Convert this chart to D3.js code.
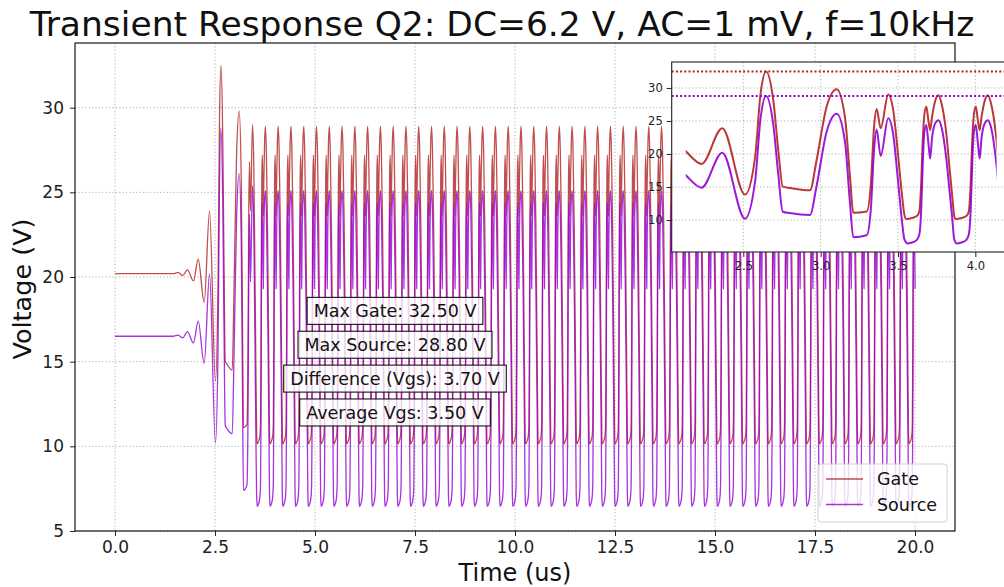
<!DOCTYPE html>
<html>
<head>
<meta charset="utf-8">
<script src="https://cdn.jsdelivr.net/npm/d3@7"></script>
<style>
    body { margin: 0; background: #fff; }
    svg { font-family: "DejaVu Sans", sans-serif; }
</style>
</head>
<body>
<svg id="chart" width="1004" height="587"></svg>
<script>
// start-up transient (us, V)
const transientTime = [0.00, 1.45, 1.58, 1.69, 1.81, 1.96, 2.08, 2.23, 2.364, 2.511, 2.576, 2.612, 2.647, 2.694, 2.726, 2.755,
    2.80, 2.931, 2.974, 3.039, 3.104, 3.157, 3.19, 3.211, 3.298, 3.325, 3.345, 3.362, 3.388, 3.437, 3.47, 3.50, 3.525, 3.54]
const transientGate = [20.2, 20.2, 20.27, 20.08, 20.42, 19.77, 21.05, 18.5, 23.9, 13.85, 19.5, 29.2, 32.5, 28.1, 20.6, 15.05,
    14.85, 14.5, 19.1, 27.2, 29.8, 25.6, 16.5, 11.1, 11.3, 15.5, 24.0, 26.8, 23.9, 29.0, 26.5, 20.0, 14.0, 11.0]
const transientSource = [16.5, 16.5, 16.57, 16.4, 16.78, 16.1, 17.4, 14.9, 20.2, 10.2, 15.8, 25.5, 28.8, 24.4, 16.9, 11.26,
    11.05, 10.75, 15.2, 23.4, 26.1, 21.9, 12.5, 7.4, 7.7, 11.8, 20.5, 23.7, 19.7, 25.4, 22.8, 16.0, 10.0, 7.2]

// one steady-state switching cycle (offset from cycle start, us)
const cycleOffset = [0.000, 0.008, 0.040, 0.072, 0.088, 0.100, 0.110, 0.120, 0.133, 0.146, 0.158, 0.170, 0.190, 0.211,
    0.232, 0.262, 0.285, 0.302, 0.312]
const cycleGate = [10.2, 10.15, 10.3, 10.6, 11.3, 15.5, 22.0, 25.8, 27.2, 25.2, 23.6, 25.6, 28.0, 28.9,
    27.6, 23.2, 17.5, 13.3, 10.9]
const cycleSource = [6.7, 6.45, 6.6, 7.0, 7.8, 11.5, 18.5, 23.2, 24.4, 21.8, 19.3, 22.4, 24.6, 25.1,
    24.0, 19.4, 14.0, 10.0, 7.3]

// start time of each steady-state cycle (us)
const cycleStarts = [3.550, 3.870, 4.189, 4.509, 4.828, 5.148, 5.467, 5.787, 6.106, 6.426, 6.745, 7.065, 7.384,
    7.704, 8.023, 8.343, 8.662, 8.982, 9.301, 9.621, 9.940, 10.260, 10.579, 10.899, 11.218, 11.538, 11.857,
    12.177, 12.496, 12.816, 13.135, 13.455, 13.774, 14.094, 14.413, 14.733, 15.052, 15.372, 15.691, 16.011,
    16.330, 16.650, 16.969, 17.289, 17.608, 17.928, 18.247, 18.567, 18.886, 19.206, 19.525, 19.845]
const endTime = 20.0

const xTicks = [0, 2.5, 5, 7.5, 10, 12.5, 15, 17.5, 20]
const yTicks = [5, 10, 15, 20, 25, 30]
const insetXTicks = [2.5, 3.0, 3.5, 4.0]
const insetYTicks = [10, 15, 20, 25, 30]

const seriesNames = ["Gate", "Source"]
const seriesColors = ["#b22222", "#9400d3"]
const maxGate = 32.5
const maxSource = 28.8
const annotationTexts = ["Max Gate: 32.50 V", "Max Source: 28.80 V", "Difference (Vgs): 3.70 V", "Average Vgs: 3.50 V"]
const annotationY = [18, 16, 14, 12]
const annotationX = 7.0

function buildSeries(transientV, cycleV) {
    let pts = transientTime.map((t, i) => [t, transientV[i]])
    for (let k = 0; k < cycleStarts.length; k++) {
        for (let j = 0; j < cycleOffset.length; j++) {
            let t = cycleStarts[k] + cycleOffset[j]
            if (t <= endTime + 0.01) pts.push([t, cycleV[j]])
        }
    }
    return pts
}
const gateData = buildSeries(transientGate, cycleGate)
const sourceData = buildSeries(transientSource, cycleSource)
const allSeries = [gateData, sourceData]

const svg = d3.select("#chart")
const width = 1004, height = 587
const margin = {top: 43, right: 49, bottom: 56, left: 75}

const xScale = d3.scaleLinear().domain([-1, 21]).range([margin.left, width - margin.right])
const yScale = d3.scaleLinear().domain([5.0, 33.82]).range([height - margin.bottom, margin.top])

// grid
let grid = svg.append("g")
grid.selectAll(".gx").data(xTicks).enter().append("line")
    .attr("x1", d => xScale(d)).attr("x2", d => xScale(d))
    .attr("y1", margin.top).attr("y2", height - margin.bottom)
grid.selectAll(".gy").data(yTicks).enter().append("line")
    .attr("x1", margin.left).attr("x2", width - margin.right)
    .attr("y1", d => yScale(d)).attr("y2", d => yScale(d))
grid.selectAll("line")
    .attr("stroke", "#b0b0b0").attr("stroke-width", 1).attr("stroke-dasharray", "1.2,2.2")

let line = d3.line()
    .x(d => xScale(d[0]))
    .y(d => yScale(d[1]))
    .curve(d3.curveMonotoneX)

for (let i = 0; i < allSeries.length; i++) {
    svg.append("path")
        .datum(allSeries[i])
        .attr("fill", "none")
        .attr("stroke", seriesColors[i])
        .attr("stroke-opacity", 0.8)
        .attr("stroke-width", 1.3)
        .attr("stroke-linejoin", "round")
        .attr("d", line)
}

// axes
let xAxis = g => g
    .attr("transform", `translate(0,${height - margin.bottom})`)
    .call(d3.axisBottom(xScale).tickValues(xTicks).tickFormat(d3.format(".1f")).tickSize(5).tickPadding(5).tickSizeOuter(0))
    .call(g => g.select(".domain").remove())
let yAxis = g => g
    .attr("transform", `translate(${margin.left},0)`)
    .call(d3.axisLeft(yScale).tickValues(yTicks).tickSize(5).tickPadding(6).tickSizeOuter(0))
    .call(g => g.select(".domain").remove())
svg.append("g").call(xAxis)
svg.append("g").call(yAxis)
svg.selectAll(".tick text").attr("font-size", 17).attr("font-family", "DejaVu Sans").attr("fill", "#222")
svg.selectAll(".tick line").attr("stroke", "#222")

svg.append("rect")
    .attr("x", margin.left).attr("y", margin.top)
    .attr("width", width - margin.left - margin.right)
    .attr("height", height - margin.top - margin.bottom)
    .attr("fill", "none").attr("stroke", "#000").attr("stroke-width", 1.1)

// annotation boxes
for (let i = 0; i < annotationTexts.length; i++) {
    let g = svg.append("g")
    let box = g.append("rect")
    let txt = g.append("text")
        .attr("x", xScale(annotationX))
        .attr("y", yScale(annotationY[i]))
        .attr("dy", "0.36em")
        .attr("text-anchor", "middle")
        .attr("font-size", 17.5)
        .attr("fill", "#111")
        .text(annotationTexts[i])
    let w = txt.node().getComputedTextLength()
    box.attr("x", xScale(annotationX) - w / 2 - 6.5)
        .attr("y", yScale(annotationY[i]) - 13.5)
        .attr("width", w + 13)
        .attr("height", 27)
        .attr("fill", "#fff").attr("fill-opacity", 0.8)
        .attr("stroke", "#111").attr("stroke-width", 1.1)
}

// legend
let legend = svg.append("g")
legend.append("rect")
    .attr("x", 818).attr("y", 464).attr("width", 129).attr("height", 58).attr("rx", 3)
    .attr("fill", "#fff").attr("fill-opacity", 0.8).attr("stroke", "#d0d0d0")
seriesNames.forEach((name, i) => {
    let yy = 479 + i * 25.5
    legend.append("line")
        .attr("x1", 826).attr("x2", 863).attr("y1", yy).attr("y2", yy)
        .attr("stroke", seriesColors[i]).attr("stroke-opacity", 0.8).attr("stroke-width", 1.3)
    legend.append("text")
        .attr("x", 877).attr("y", yy).attr("dy", "0.36em")
        .attr("font-size", 17.5).attr("fill", "#111")
        .text(name)
})

// titles
svg.append("text")
    .attr("x", 502).attr("y", 36)
    .attr("text-anchor", "middle").attr("font-size", 34.5).attr("fill", "#111")
    .text("Transient Response Q2: DC=6.2 V, AC=1 mV, f=10kHz")
svg.append("text")
    .attr("x", (margin.left + width - margin.right) / 2).attr("y", 580.5)
    .attr("text-anchor", "middle").attr("font-size", 24).attr("fill", "#111")
    .text("Time (us)")
svg.append("text")
    .attr("transform", `translate(31,${(margin.top + height - margin.bottom) / 2 + 2}) rotate(-90)`)
    .attr("text-anchor", "middle").attr("font-size", 25.5).attr("fill", "#111")
    .text("Voltage (V)")

// inset zoom on the start-up
const inset = {left: 671.7, top: 62, bottom: 252}
const insetX = d3.scaleLinear().domain([2.037, 4.23]).range([inset.left, inset.left + 2.193 * 154.67])
const insetY = d3.scaleLinear().domain([5.16, 33.93]).range([inset.bottom, inset.top])
const insetRight = insetX.range()[1]

let ins = svg.append("g")
ins.append("rect")
    .attr("x", inset.left).attr("y", inset.top)
    .attr("width", insetRight - inset.left).attr("height", inset.bottom - inset.top)
    .attr("fill", "#fff")

let igrid = ins.append("g")
igrid.selectAll(".gx").data(insetXTicks).enter().append("line")
    .attr("x1", d => insetX(d)).attr("x2", d => insetX(d))
    .attr("y1", inset.top).attr("y2", inset.bottom)
igrid.selectAll(".gy").data(insetYTicks).enter().append("line")
    .attr("x1", inset.left).attr("x2", insetRight)
    .attr("y1", d => insetY(d)).attr("y2", d => insetY(d))
igrid.selectAll("line")
    .attr("stroke", "#b0b0b0").attr("stroke-width", 1).attr("stroke-dasharray", "1.2,2.2")

svg.append("clipPath").attr("id", "insetClip")
    .append("rect")
    .attr("x", insetX(2.128)).attr("y", inset.top)
    .attr("width", insetX(4.138) - insetX(2.128)).attr("height", inset.bottom - inset.top)

let insetLine = d3.line()
    .x(d => insetX(d[0]))
    .y(d => insetY(d[1]))
    .curve(d3.curveMonotoneX)

for (let i = 0; i < allSeries.length; i++) {
    ins.append("path")
        .datum(allSeries[i].filter(d => d[0] > 1.9 && d[0] < 4.5))
        .attr("clip-path", "url(#insetClip)")
        .attr("fill", "none")
        .attr("stroke", seriesColors[i])
        .attr("stroke-opacity", 0.9)
        .attr("stroke-width", 2)
        .attr("stroke-linejoin", "round")
        .attr("d", insetLine)
}

;[maxGate, maxSource].forEach((v, i) => {
    ins.append("line")
        .attr("x1", inset.left).attr("x2", insetRight)
        .attr("y1", insetY(v)).attr("y2", insetY(v))
        .attr("stroke", seriesColors[i]).attr("stroke-width", 2)
        .attr("stroke-dasharray", "2,2.2")
})

ins.append("g")
    .attr("transform", `translate(0,${inset.bottom})`)
    .call(d3.axisBottom(insetX).tickValues(insetXTicks).tickFormat(d3.format(".1f")).tickSize(5).tickPadding(5).tickSizeOuter(0))
    .call(g => g.select(".domain").remove())
ins.append("g")
    .attr("transform", `translate(${inset.left},0)`)
    .call(d3.axisLeft(insetY).tickValues(insetYTicks).tickSize(5).tickPadding(4).tickSizeOuter(0))
    .call(g => g.select(".domain").remove())
ins.selectAll(".tick text").attr("font-size", 11.5).attr("font-family", "DejaVu Sans").attr("fill", "#222")
ins.selectAll(".tick line").attr("stroke", "#222")

ins.append("rect")
    .attr("x", inset.left).attr("y", inset.top)
    .attr("width", insetRight - inset.left).attr("height", inset.bottom - inset.top)
    .attr("fill", "none").attr("stroke", "#222").attr("stroke-width", 1.1)
</script>
</body>
</html>
